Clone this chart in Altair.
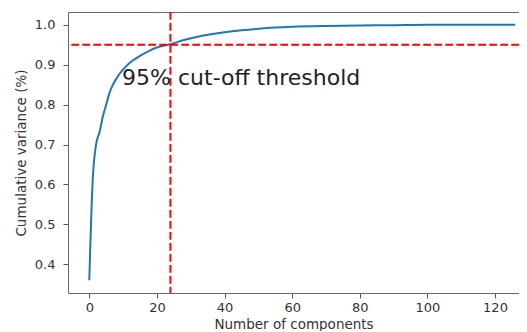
import altair as alt
import pandas as pd

# Data
components = [0, 1, 2, 3, 4, 5, 6, 7, 8, 10, 12, 15, 18, 20, 24, 28, 32, 36, 40, 45, 50, 55, 60, 70, 80, 90, 100, 110, 126]
cum_var = [0.36, 0.61, 0.70, 0.73, 0.77, 0.80, 0.83, 0.85, 0.865, 0.888, 0.905, 0.922, 0.936, 0.943, 0.951,
           0.962, 0.970, 0.976, 0.981, 0.986, 0.990, 0.993, 0.995, 0.997, 0.998, 0.999, 1.0, 1.0, 1.0]
threshold = [0.95]
cutoff_n = [24]
label_text = ["95% cut-off threshold"]
label_pos = [(9.7, 0.85)]
x_ticks = [0, 20, 40, 60, 80, 100, 120]
y_ticks = [0.4, 0.5, 0.6, 0.7, 0.8, 0.9, 1.0]

df = pd.DataFrame({"n": components, "v": cum_var})

FONT = "DejaVu Sans"
FRAME = "#666"
x_scale = alt.Scale(domain=[-6.3, 127.1], nice=False, zero=False)
y_scale = alt.Scale(domain=[0.328, 1.032], nice=False, zero=False)

x_axis = alt.Axis(values=x_ticks, title="Number of components", grid=False, domain=True, domainColor=FRAME,
                  tickSize=5, tickColor="#555", labelColor="#333", labelFontSize=13,
                  titleFontSize=13.5, titleFontWeight="normal", titleColor="#333", labelPadding=3, titlePadding=3)
x_top_axis = alt.Axis(orient="top", labels=False, ticks=False, title=None, grid=False,
                      domain=True, domainColor=FRAME)
y_axis = alt.Axis(values=y_ticks, format=".1f", title="Cumulative variance (%)", grid=False, domain=True,
                  domainColor=FRAME, tickSize=5, tickColor="#555", labelColor="#333", labelFontSize=13,
                  titleFontSize=13.5, titleFontWeight="normal", titleColor="#333", labelPadding=8, titlePadding=6)

line = alt.Chart(df).mark_line(color="#1f77b4", strokeWidth=2, interpolate="monotone").encode(
    x=alt.X("n:Q", scale=x_scale, axis=x_axis),
    y=alt.Y("v:Q", scale=y_scale, axis=y_axis),
)

hrule = alt.Chart(pd.DataFrame({"t": threshold})).mark_rule(
    color="#ff0000", strokeWidth=2, strokeDash=[7.7, 3.3]).encode(y=alt.Y("t:Q", scale=y_scale))
vrule = alt.Chart(pd.DataFrame({"c": cutoff_n})).mark_rule(
    color="#ff0000", strokeWidth=2, strokeDash=[7.7, 3.3]).encode(
    x=alt.X("c:Q", scale=x_scale, axis=x_top_axis))

text = alt.Chart(pd.DataFrame({"x": [p[0] for p in label_pos], "y": [p[1] for p in label_pos], "t": label_text})).mark_text(
    align="left", baseline="alphabetic", fontSize=22, font=FONT, color="#222").encode(
    x=alt.X("x:Q", scale=x_scale, axis=None), y=alt.Y("y:Q", scale=y_scale), text="t:N")

chart = alt.layer(line, hrule, vrule, text).resolve_axis(x="independent").properties(
    width=451, height=281,
    autosize=alt.AutoSizeParams(type="none"),
    padding={"left": 60, "top": 4, "right": 0, "bottom": 38},
).configure(font=FONT).configure_view(stroke=None)

chart.save("out.html", embed_options={"renderer": "svg", "actions": False})
